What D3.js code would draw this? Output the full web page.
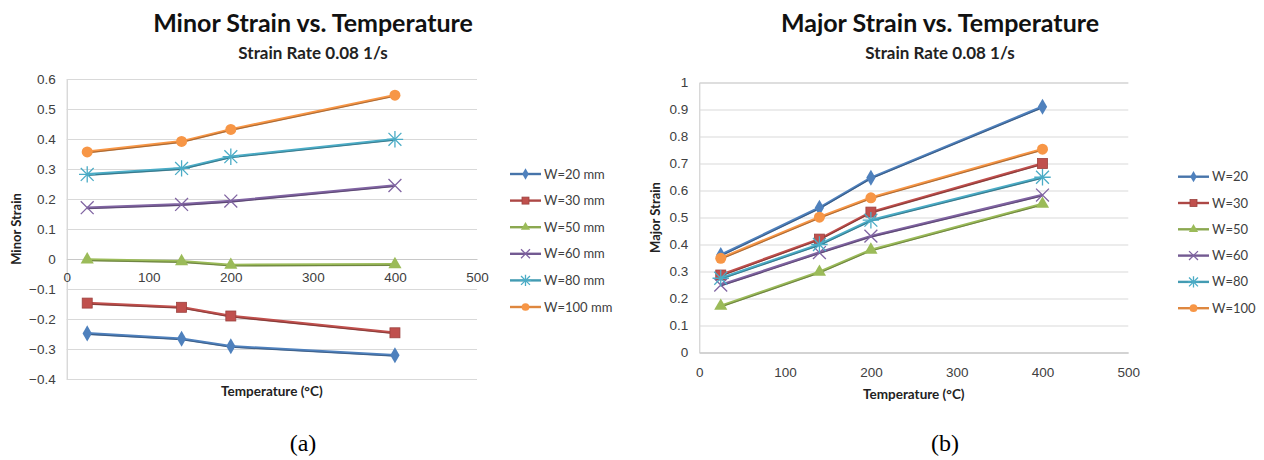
<!DOCTYPE html>
<html>
<head>
<meta charset="utf-8">
<script src="https://cdn.jsdelivr.net/npm/d3@7.9.0/dist/d3.min.js"></script>
<style>
  body { margin: 0; background: #fff; }
  svg { display: block; font-family: Lato, "Open Sans", sans-serif; }
  .tick text { fill: #404040; font-size: 13.5px; }
</style>
</head>
<body>
<svg id="chart" width="1264" height="460"></svg>
<script>
const temps = [25, 140, 200, 400];
const seriesLeft = ["W=20 mm", "W=30 mm", "W=50 mm", "W=60 mm", "W=80 mm", "W=100 mm"];
const seriesRight = ["W=20", "W=30", "W=50", "W=60", "W=80", "W=100"];

// minor strain, one array per width
const minorW20 = [-0.248, -0.266, -0.291, -0.321];
const minorW30 = [-0.147, -0.161, -0.19, -0.246];
const minorW50 = [-0.002, -0.008, -0.02, -0.018];
const minorW60 = [0.171, 0.182, 0.193, 0.245];
const minorW80 = [0.282, 0.302, 0.341, 0.399];
const minorW100 = [0.357, 0.392, 0.432, 0.546];

// major strain
const majorW20 = [0.361, 0.536, 0.647, 0.91];
const majorW30 = [0.287, 0.42, 0.52, 0.70];
const majorW50 = [0.172, 0.298, 0.38, 0.55];
const majorW60 = [0.25, 0.37, 0.431, 0.583];
const majorW80 = [0.275, 0.40, 0.49, 0.649];
const majorW100 = [0.349, 0.501, 0.573, 0.753];

const minorTicks = [-0.4, -0.3, -0.2, -0.1, 0, 0.1, 0.2, 0.3, 0.4, 0.5, 0.6];
const majorTicks = [0, 0.1, 0.2, 0.3, 0.4, 0.5, 0.6, 0.7, 0.8, 0.9, 1];
const tempTicks = [0, 100, 200, 300, 400, 500];

const colors = ["#4F81BD", "#C0504D", "#9BBB59", "#8064A2", "#4BACC6", "#F79646"];
const shapes = ["diamond", "square", "triangle", "times", "star", "circle"];

const svg = d3.select("#chart");

function marker(g, shape, color, s) {
  if (shape === "circle") {
    g.append("circle").attr("r", s * 0.55).attr("fill", color);
  } else if (shape === "square") {
    g.append("rect").attr("x", -s / 2).attr("y", -s / 2).attr("width", s).attr("height", s)
      .attr("fill", color).attr("stroke", d3.color(color).darker(0.6)).attr("stroke-width", 0.8);
  } else if (shape === "diamond") {
    g.append("path").attr("d", d3.symbol(d3.symbolDiamond, s * s * 0.75)()).attr("fill", color);
  } else if (shape === "triangle") {
    g.append("path").attr("d", d3.symbol(d3.symbolTriangle, s * s * 0.75)()).attr("fill", color);
  } else if (shape === "times") {
    g.append("path").attr("d", d3.symbol(d3.symbolTimes, s * s * 1.1)())
      .attr("fill", "none").attr("stroke", color).attr("stroke-width", 1.3);
  } else {
    g.append("path").attr("d", d3.symbol(d3.symbolTimes, s * s * 1.1)())
      .attr("fill", "none").attr("stroke", color).attr("stroke-width", 1.3);
    g.append("path").attr("d", d3.symbol(d3.symbolPlus, s * s * 0.9)())
      .attr("fill", "none").attr("stroke", color).attr("stroke-width", 1.3);
  }
}

function drawChart(cfg) {
  const x = d3.scaleLinear().domain([0, 500]).range(cfg.xRange);
  const y = d3.scaleLinear().domain(cfg.yDomain).range(cfg.yRange);
  const g = svg.append("g");

  // gridlines + y labels
  g.append("g")
    .attr("transform", `translate(${cfg.xRange[0]},0)`)
    .call(d3.axisLeft(y).tickValues(cfg.yTicks).tickSize(-(cfg.xRange[1] - cfg.xRange[0]))
      .tickPadding(11).tickFormat(d3.format("")))
    .call(a => a.select(".domain").attr("stroke", "#c8c8c8"))
    .call(a => a.selectAll(".tick line").attr("stroke", "#d9d9d9"));

  // x axis at y = 0
  g.append("g")
    .attr("transform", `translate(0,${y(0)})`)
    .call(d3.axisBottom(x).tickValues(tempTicks).tickSize(0).tickPadding(cfg.xPad))
    .call(a => a.select(".domain").attr("stroke", "#c8c8c8"));

  // series
  const line = d3.line().x((d, i) => x(temps[i])).y(d => y(d));
  cfg.data.forEach((vals, k) => {
    const c = colors[k];
    g.append("path").attr("d", line(vals)).attr("fill", "none")
      .attr("stroke", c).attr("stroke-width", 2.6);
    g.append("path").attr("d", line(vals)).attr("fill", "none")
      .attr("stroke", d3.color(c).darker(1.3)).attr("stroke-width", 1.1)
      .attr("transform", "translate(0,1)").attr("opacity", 0.8);
    vals.forEach((v, i) => {
      marker(g.append("g").attr("transform", `translate(${x(temps[i])},${y(v)})`), shapes[k], c, 10);
    });
  });

  // titles
  g.append("text").attr("x", cfg.titleX).attr("y", 32).attr("text-anchor", "middle")
    .attr("font-size", 25).attr("font-weight", "bold").attr("fill", "#111").text(cfg.title);
  g.append("text").attr("x", cfg.titleX).attr("y", 59).attr("text-anchor", "middle")
    .attr("font-size", 17).attr("font-weight", "bold").attr("fill", "#222").text("Strain Rate 0.08 1/s");

  const cy = (cfg.yRange[0] + cfg.yRange[1]) / 2;
  g.append("text").attr("transform", `translate(${cfg.yTitleX},${cy}) rotate(-90)`)
    .attr("text-anchor", "middle").attr("font-size", 13).attr("font-weight", "bold")
    .attr("fill", "#222").text(cfg.yTitle);
  g.append("text").attr("x", (cfg.xRange[0] + cfg.xRange[1]) / 2).attr("y", cfg.xTitleY)
    .attr("text-anchor", "middle").attr("font-size", 13.5).attr("font-weight", "bold")
    .attr("fill", "#222").text("Temperature (°C)");

  // legend
  const lg = g.append("g");
  cfg.labels.forEach((lab, k) => {
    const ly = cfg.legY + k * cfg.legStep;
    lg.append("line").attr("x1", cfg.legX).attr("x2", cfg.legX + 31).attr("y1", ly).attr("y2", ly)
      .attr("stroke", d3.color(colors[k]).darker(0.3)).attr("stroke-width", 2.4);
    marker(lg.append("g").attr("transform", `translate(${cfg.legX + 15.5},${ly})`), shapes[k], colors[k], 7);
    lg.append("text").attr("x", cfg.legX + 34).attr("y", ly + 4.5).attr("font-size", 13)
      .attr("fill", "#404040").text(lab);
  });

  // caption
  svg.append("text").attr("x", cfg.capX).attr("y", 451).attr("text-anchor", "middle")
    .attr("font-family", "'Liberation Serif', 'Times New Roman', serif").attr("font-size", 24)
    .attr("fill", "#000").text(cfg.caption);
}

drawChart({
  title: "Minor Strain vs. Temperature", titleX: 313,
  xRange: [66.7, 477], yDomain: [-0.4, 0.6], yRange: [379, 79], yTicks: minorTicks, xPad: 13,
  data: [minorW20, minorW30, minorW50, minorW60, minorW80, minorW100],
  yTitle: "Minor Strain", yTitleX: 21, xTitleY: 396,
  labels: seriesLeft, legX: 510, legY: 174, legStep: 26.6,
  caption: "(a)", capX: 303
});

drawChart({
  title: "Major Strain vs. Temperature", titleX: 940,
  xRange: [699.3, 1128.3], yDomain: [0, 1], yRange: [352.5, 82.5], yTicks: majorTicks, xPad: 15,
  data: [majorW20, majorW30, majorW50, majorW60, majorW80, majorW100],
  yTitle: "Major Strain", yTitleX: 660, xTitleY: 399,
  labels: seriesRight, legX: 1178, legY: 176.7, legStep: 26.3,
  caption: "(b)", capX: 945
});
</script>
</body>
</html>
